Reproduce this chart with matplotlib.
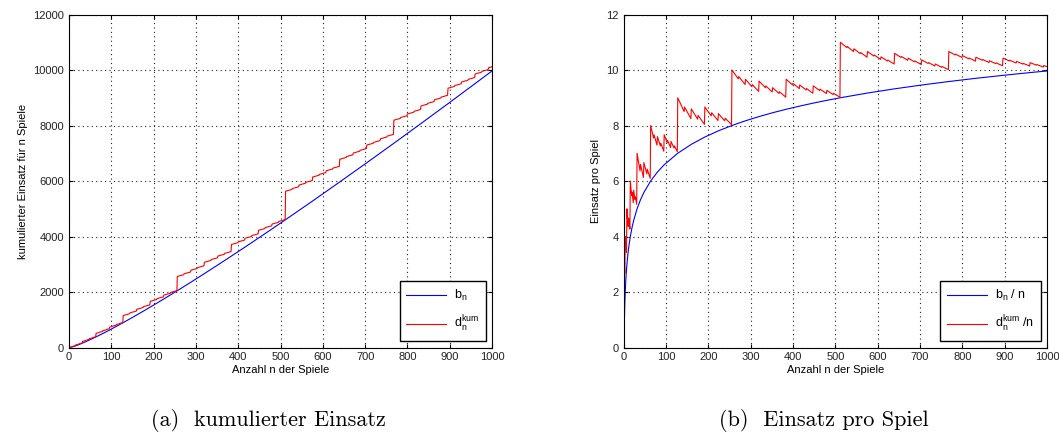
import numpy as np
import matplotlib
matplotlib.use("Agg")
import matplotlib.pyplot as plt

# Stützstellen der roten Kurve (Sprungstellen von d_n^kum)
n_rot = [1, 2, 3, 4, 5, 6, 7, 8, 9, 10, 11, 12, 13, 14, 15, 16,
         19, 20, 23, 24, 27, 28, 31, 32,
         39, 40, 47, 48, 55, 56, 63, 64, 71, 72, 79, 80, 87, 88, 95, 96,
         103, 104, 111, 112, 119, 120, 127, 128,
         143, 144, 159, 160, 175, 176, 191, 192, 207, 208, 223, 224, 239, 240, 255, 256,
         271, 272, 287, 288, 303, 304, 319, 320, 335, 336, 351, 352, 367, 368, 383, 384,
         399, 400, 415, 416, 431, 432, 447, 448, 463, 464, 479, 480, 495, 496, 511, 512,
         527, 528, 543, 544, 559, 560, 575, 576, 591, 592, 607, 608, 623, 624, 639, 640,
         655, 656, 671, 672, 687, 688, 703, 704, 719, 720, 735, 736, 751, 752, 767, 768,
         783, 784, 799, 800, 815, 816, 831, 832, 847, 848, 863, 864, 879, 880, 895, 896,
         911, 912, 927, 928, 943, 944, 959, 960, 975, 976, 991, 992, 1000]
d_kum = [2, 6, 8, 16, 18, 22, 24, 40, 42, 46, 48, 56, 58, 62, 64, 96,
         104, 112, 120, 136, 144, 152, 160, 224,
         248, 264, 288, 320, 344, 360, 384, 512, 536, 552, 576, 608, 632, 648, 672, 736,
         760, 776, 800, 832, 856, 872, 896, 1152,
         1216, 1248, 1312, 1376, 1440, 1472, 1536, 1664, 1728, 1760, 1824, 1888, 1952, 1984, 2048, 2560,
         2624, 2656, 2720, 2784, 2848, 2880, 2944, 3072, 3136, 3168, 3232, 3296, 3360, 3392, 3456, 3712,
         3776, 3808, 3872, 3936, 4000, 4032, 4096, 4224, 4288, 4320, 4384, 4448, 4512, 4544, 4608, 5632,
         5696, 5728, 5792, 5856, 5920, 5952, 6016, 6144, 6208, 6240, 6304, 6368, 6432, 6464, 6528, 6784,
         6848, 6880, 6944, 7008, 7072, 7104, 7168, 7296, 7360, 7392, 7456, 7520, 7584, 7616, 7680, 8192,
         8256, 8288, 8352, 8416, 8480, 8512, 8576, 8704, 8768, 8800, 8864, 8928, 8992, 9024, 9088, 9344,
         9408, 9440, 9504, 9568, 9632, 9664, 9728, 9856, 9920, 9952, 10016, 10080, 10120]

# Stützstellen der blauen Kurve b_n
n_blau = [1, 2, 3, 4, 5, 6, 8, 10, 12, 16, 20, 24, 32, 40, 48, 64, 80, 96, 128, 160, 192,
          224, 256, 288, 320, 352, 384, 416, 448, 480, 512, 576, 640, 704, 768, 832, 896, 960, 1000]
b_n = [0, 2, 4.75, 8, 11.6, 15.5, 24, 33.2, 43.0, 64, 86.4, 110.0, 160, 212.9, 268.1, 384, 505.8,
       632.2, 896, 1171.5, 1456.3, 1749, 2048, 2353, 2663, 2978, 3296.6, 3619, 3945.5, 4275, 4608,
       5282, 5966, 6659, 7361, 8071, 8787, 9511, 9966]

n_rot = np.array(n_rot)
d_kum = np.array(d_kum, dtype=float)
n_blau = np.array(n_blau)
b_n = np.array(b_n)

plt.rcParams['font.family'] = ['Liberation Sans', 'DejaVu Sans']
plt.rcParams['font.size'] = 8
plt.rcParams['mathtext.fontset'] = 'custom'
plt.rcParams['mathtext.rm'] = 'Liberation Sans'
plt.rcParams['mathtext.it'] = 'Liberation Sans'

fig = plt.figure(figsize=(10.59, 4.37), dpi=100)
ax1 = fig.add_axes([0.0652, 0.2048, 0.3994, 0.762])
ax2 = fig.add_axes([0.5888, 0.2048, 0.3999, 0.762])

blau = '#0000ff'
rot = '#ff0000'


def style(ax):
    ax.set_xlim(0, 1000)
    ax.set_xticks(range(0, 1001, 100))
    ax.grid(True, linestyle=(0, (1, 3)), color='#222222', linewidth=0.8)
    ax.tick_params(direction='in', length=3, top=True, right=True, labelsize=8,
                   colors='black', labelcolor='#222222')
    for s in ax.spines.values():
        s.set_linewidth(0.8)
    ax.set_xlabel('Anzahl n der Spiele', fontsize=8, labelpad=2)


def legende(ax):
    ax.legend(loc='lower right', fancybox=False, edgecolor='black', framealpha=1,
              handlelength=3.2, borderaxespad=0.5, fontsize=9, labelspacing=0.9,
              borderpad=0.55, handletextpad=0.6)


ax1.plot(n_blau, b_n, color=blau, linewidth=0.8, label=r'$\mathregular{b_n}$')
ax1.plot(n_rot, d_kum, color=rot, linewidth=0.8, label=r'$\mathregular{d_n^{kum}}$')
style(ax1)
ax1.set_ylim(0, 12000)
ax1.set_yticks(range(0, 12001, 2000))
ax1.set_ylabel('kumulierter Einsatz für n Spiele', fontsize=8, labelpad=4)
legende(ax1)

ax2.plot(n_blau, b_n / n_blau, color=blau, linewidth=0.8, label=r'$\mathregular{b_n}$ / n')
ax2.plot(n_rot, d_kum / n_rot, color=rot, linewidth=0.8, label=r'$\mathregular{d_n^{kum}}$ /n')
style(ax2)
ax2.set_ylim(0, 12)
ax2.set_yticks(range(0, 13, 2))
ax2.set_ylabel('Einsatz pro Spiel', fontsize=8, labelpad=4)
legende(ax2)

fig.text(0.2535, 0.025, '(a)  kumulierter Einsatz', ha='center', va='baseline',
         fontsize=16, family='cmr10')
fig.text(0.778, 0.025, '(b)  Einsatz pro Spiel', ha='center', va='baseline',
         fontsize=16, family='cmr10')

fig.savefig('out.png', dpi=100)
